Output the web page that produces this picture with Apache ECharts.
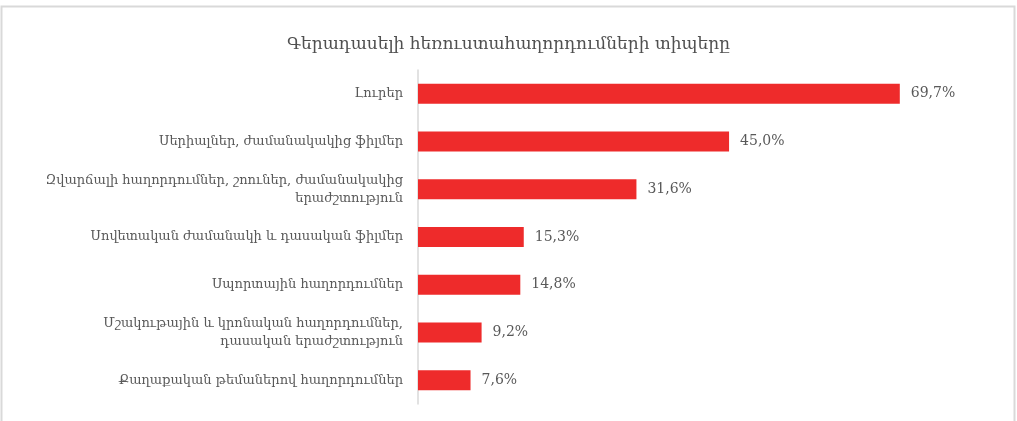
<!DOCTYPE html>
<html>
<head>
<meta charset="utf-8">
<script src="https://cdn.jsdelivr.net/npm/echarts@6/dist/echarts.min.js"></script>
<style>
html,body{margin:0;padding:0;background:#fff;}
#chart{width:1017px;height:421px;}
</style>
</head>
<body>
<div id="chart"></div>
<script>
var titleText = 'Գերադասելի հեռուստահաղորդումների տիպերը';
var categories = [
  'Լուրեր',
  'Սերիալներ, ժամանակակից ֆիլմեր',
  'Զվարճալի հաղորդումներ, շոուներ, ժամանակակից\nերաժշտություն',
  'Սովետական ժամանակի և դասական ֆիլմեր',
  'Սպորտային հաղորդումներ',
  'Մշակութային և կրոնական հաղորդումներ,\nդասական երաժշտություն',
  'Քաղաքական թեմաներով հաղորդումներ'
];
var values = [69.7, 45.0, 31.6, 15.3, 14.8, 9.2, 7.6];

var font = '"DejaVu Serif", serif';
var chart = echarts.init(document.getElementById('chart'), null, {renderer:'canvas'});
chart.setOption({
  animation: false,
  backgroundColor: '#fff',
  title: {
    text: titleText,
    left: 'center',
    top: 31,
    textStyle: {fontFamily: font, fontSize: 17, fontWeight: 'normal', color: '#505050'}
  },
  graphic: [{
    type: 'rect', silent: true, z: -1,
    shape: {x: 1.5, y: 6.5, width: 1013, height: 430},
    style: {fill: 'none', stroke: '#d9d9d9', lineWidth: 2}
  }],
  grid: {left: 418, right: 46, top: 70, bottom: 17, containLabel: false},
  xAxis: {
    type: 'value', min: 0, max: 80,
    show: false,
    splitLine: {show: false}
  },
  yAxis: {
    type: 'category',
    inverse: true,
    data: categories,
    axisLine: {show: true, lineStyle: {color: '#d9d9d9', width: 1.5}},
    axisTick: {show: false},
    axisLabel: {
      fontFamily: font, fontSize: 13, color: '#595959',
      margin: 15, lineHeight: 18, align: 'right'
    }
  },
  series: [{
    type: 'bar',
    data: values,
    barWidth: 20,
    itemStyle: {color: '#ee2b2b'},
    label: {
      show: true, position: 'right', distance: 11,
      fontFamily: font, fontSize: 14, color: '#595959',
      formatter: function(p){ return p.value.toFixed(1).replace('.', ',') + '%'; }
    }
  }]
});
</script>
</body>
</html>
